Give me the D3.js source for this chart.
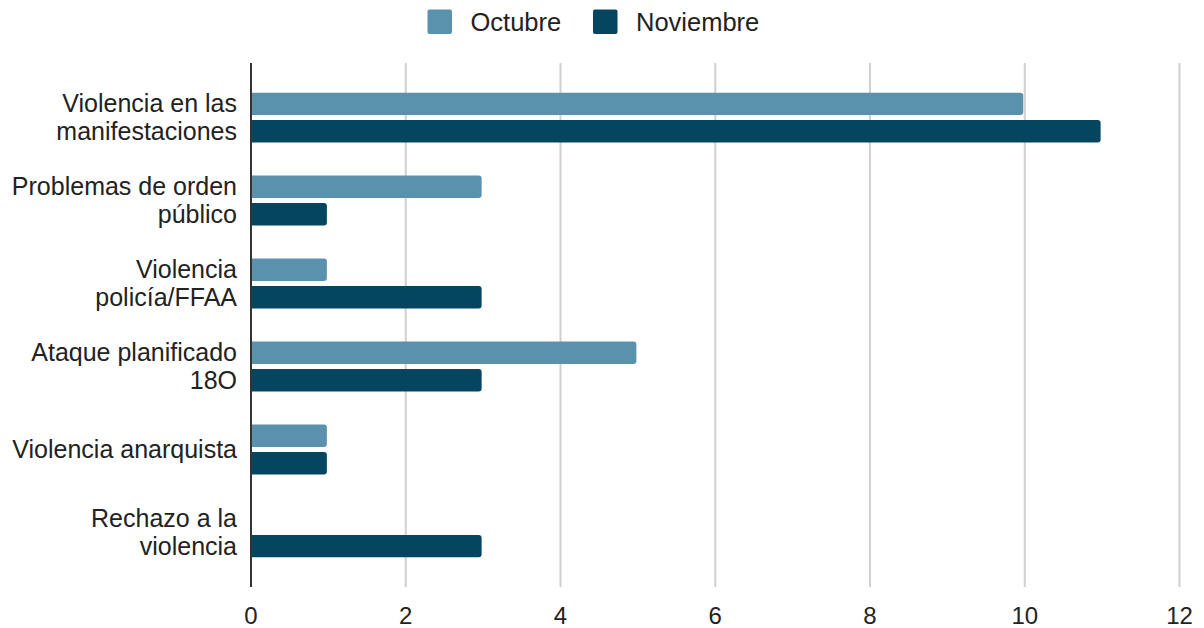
<!DOCTYPE html>
<html><head><meta charset="utf-8">
<script src="https://cdn.jsdelivr.net/npm/d3@7"></script>
<style>
html,body{margin:0;padding:0;background:#fff;}
svg{display:block;font-family:"Liberation Sans",Arial,sans-serif;}
</style></head>
<body>
<svg id="chart" width="1204" height="628"></svg>
<script>
const categories = [
  "Violencia en las|manifestaciones",
  "Problemas de orden|público",
  "Violencia|policía/FFAA",
  "Ataque planificado|18O",
  "Violencia anarquista",
  "Rechazo a la|violencia"
];
const seriesNames = ["Octubre", "Noviembre"];
const octubre = [10, 3, 1, 5, 1, 0];
const noviembre = [11, 1, 3, 3, 1, 3];
const xTicks = [0, 2, 4, 6, 8, 10, 12];

(function () {
const colors = {Octubre: "#5a92ae", Noviembre: "#04465f"};
const svg = d3.select("#chart");
const mLeft = 251, mRight = 1179.5, mTop = 63, mBottom = 587;

const x = d3.scaleLinear().domain([0, 12]).range([mLeft, mRight]);
const y0 = d3.scaleBand().domain(categories).range([mTop, mBottom]).paddingInner(0.4).paddingOuter(0.357);
const y1 = d3.scaleBand().domain(seriesNames).range([0, y0.bandwidth()]).paddingInner(0.18);

// grid
svg.append("g").selectAll("line").data(xTicks.filter(d => d > 0)).join("line")
  .attr("x1", d => x(d)).attr("x2", d => x(d))
  .attr("y1", mTop).attr("y2", mBottom)
  .attr("stroke", "#d0d0d0").attr("stroke-width", 2);

// bars
const data = [];
categories.forEach((c, i) => {
  data.push({cat: c, s: "Octubre", v: octubre[i]});
  data.push({cat: c, s: "Noviembre", v: noviembre[i]});
});
function barPath(x0, y, w, h, r) {
  if (w <= 0) return "";
  r = Math.min(r, w, h / 2);
  return `M${x0},${y}H${x0 + w - r}Q${x0 + w},${y} ${x0 + w},${y + r}V${y + h - r}Q${x0 + w},${y + h} ${x0 + w - r},${y + h}H${x0}Z`;
}
svg.append("g").selectAll("path").data(data.filter(d => d.v > 0)).join("path")
  .attr("d", d => barPath(x(0), y0(d.cat) + y1(d.s), x(d.v) - x(0) - 1.5, y1.bandwidth(), 3))
  .attr("fill", d => colors[d.s]);

// axis line at zero
svg.append("line").attr("x1", x(0)).attr("x2", x(0)).attr("y1", mTop).attr("y2", mBottom)
  .attr("stroke", "#333").attr("stroke-width", 2);

// x tick labels
svg.append("g").selectAll("text").data(xTicks).join("text")
  .attr("x", d => x(d)).attr("y", 624)
  .attr("text-anchor", "middle").attr("font-size", 24).attr("fill", "#222")
  .text(d => d);

// y labels
const lh = 28.6;
categories.forEach(c => {
  const lines = c.split("|");
  const cy = y0(c) + y0.bandwidth() / 2;
  const t = svg.append("text").attr("text-anchor", "end").attr("font-size", 25).attr("fill", "#222");
  lines.forEach((ln, j) => {
    t.append("tspan").attr("x", 237)
      .attr("y", cy + (j - (lines.length - 1) / 2) * lh + 8.6)
      .text(ln);
  });
});

// legend
const legendX = {Octubre: 427.5, Noviembre: 593};
seriesNames.forEach(s => {
  svg.append("rect").attr("x", legendX[s]).attr("y", 9.5).attr("width", 24.5).attr("height", 24.5)
    .attr("rx", 2).attr("fill", colors[s]);
  svg.append("text").attr("x", legendX[s] + 43).attr("y", 30.5)
    .attr("font-size", 25.5).attr("fill", "#222").text(s);
});
})();
</script>
</body></html>
